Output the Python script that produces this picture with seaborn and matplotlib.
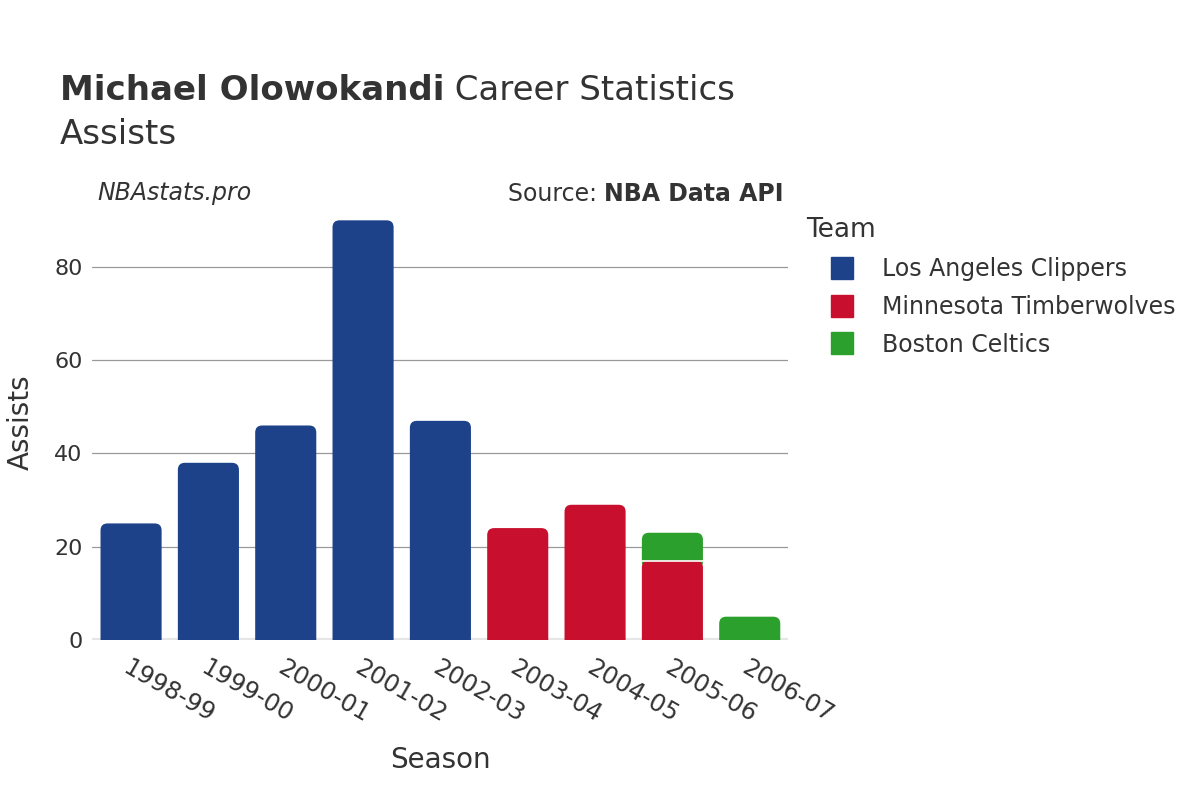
import pandas as pd
import matplotlib.pyplot as plt
import seaborn as sns
from matplotlib.patches import FancyBboxPatch
from matplotlib.lines import Line2D

sns.set_theme(style="white")
plt.rcParams['font.family'] = ['DejaVu Sans']

# Data
seasons = ['1998-99', '1999-00', '2000-01', '2001-02', '2002-03',
           '2003-04', '2004-05', '2005-06', '2006-07']
teams = ['Los Angeles Clippers', 'Minnesota Timberwolves', 'Boston Celtics']
lac_assists = [25, 38, 46, 90, 47, 0, 0, 0, 0]
min_assists = [0, 0, 0, 0, 0, 24, 29, 17, 0]
bos_assists = [0, 0, 0, 0, 0, 0, 0, 6, 5]
team_colors = ['#1D428A', '#C8102E', '#2CA02C']

df = pd.DataFrame({'Season': seasons, teams[0]: lac_assists,
                   teams[1]: min_assists, teams[2]: bos_assists})

fig = plt.figure(figsize=(12, 8), dpi=100)
ax = fig.add_axes([0.077, 0.2, 0.58, 0.545])

# stacked bars, one seaborn call per team
bottom = [0] * len(seasons)
for team, color in zip(teams, team_colors):
    sns.barplot(data=df, x='Season', y=team, order=seasons, color=color,
                bottom=bottom, width=0.79, ax=ax, saturation=1)
    bottom = [b + v for b, v in zip(bottom, df[team])]

ax.set_ylim(0, 93.5)
ax.set_xlim(-0.5, len(seasons) - 0.5)

# swap plain rectangles for ones with rounded tops
# (bottom corners get hidden below the axis or under the segment beneath)
fig.canvas.draw()
px_x = ax.transData.transform((1, 0))[0] - ax.transData.transform((0, 0))[0]
px_y = ax.transData.transform((0, 1))[1] - ax.transData.transform((0, 0))[1]
rad = 7 / px_x
aspect = px_x / px_y
ext = 8 / px_y
for p in list(ax.patches):
    h = p.get_height()
    if h <= 0:
        p.remove()
        continue
    x0, y0, w = p.get_x(), p.get_y(), p.get_width()
    fc = p.get_facecolor()
    p.remove()
    ax.add_patch(FancyBboxPatch((x0, y0 - ext), w, h + ext,
                                boxstyle=f"round,pad=0,rounding_size={rad}",
                                mutation_aspect=aspect, fc=fc, ec='none', lw=0,
                                zorder=3 - y0 / 100))
    if y0 > 0:
        ax.plot([x0, x0 + w], [y0, y0], color='white', lw=1.2, zorder=5)

for v in [20, 40, 60, 80]:
    ax.axhline(v, color='#999999', lw=0.9, zorder=0)
ax.axhline(0, color='#e6e6e6', lw=3, zorder=0)

for s in ax.spines.values():
    s.set_visible(False)
ax.set_yticks([0, 20, 40, 60, 80])
ax.tick_params(axis='y', length=5, width=0.9, color='#999999', labelsize=16,
               labelcolor='#333333', pad=2)
ax.tick_params(axis='x', length=0, labelsize=17.5, labelcolor='#333333', pad=11)
plt.setp(ax.get_xticklabels(), rotation=-30, ha='left', va='top', rotation_mode='anchor')

ax.set_xlabel('Season', fontsize=20, color='#333333', labelpad=14)
ax.set_ylabel('Assists', fontsize=20, color='#333333', labelpad=14)

# titles
t1 = fig.text(0.05, 0.866, 'Michael Olowokandi', fontsize=24.5, fontweight='bold',
              color='#333333', va='bottom')
ax.annotate(' Career Statistics', xy=(1, 0), xycoords=t1, fontsize=24.5,
            color='#333333', va='bottom', ha='left', annotation_clip=False)
fig.text(0.05, 0.82, 'Assists', fontsize=24.5, color='#333333', va='baseline')
fig.text(0.081, 0.75, 'NBAstats.pro', fontsize=17, style='italic',
         color='#333333', va='baseline')
t2 = fig.text(0.653, 0.743, 'NBA Data API', fontsize=17, fontweight='bold',
              color='#333333', va='bottom', ha='right')
ax.annotate('Source: ', xy=(0, 0), xycoords=t2, fontsize=17,
            color='#333333', va='bottom', ha='right', annotation_clip=False)

# legend
handles = [Line2D([0], [0], marker='s', color='none', markerfacecolor=c,
                  markeredgecolor=c, markersize=16) for c in team_colors]
leg = fig.legend(handles, teams, title='Team', loc='upper left',
                 bbox_to_anchor=(0.6635, 0.74), frameon=False, fontsize=17,
                 title_fontsize=19, labelspacing=0.58, handlelength=3.05,
                 handletextpad=0.17, borderaxespad=0)
leg._legend_box.align = 'left'
for t in leg.get_texts():
    t.set_color('#333333')
leg.get_title().set_color('#333333')

fig.savefig('out.png', dpi=100)
